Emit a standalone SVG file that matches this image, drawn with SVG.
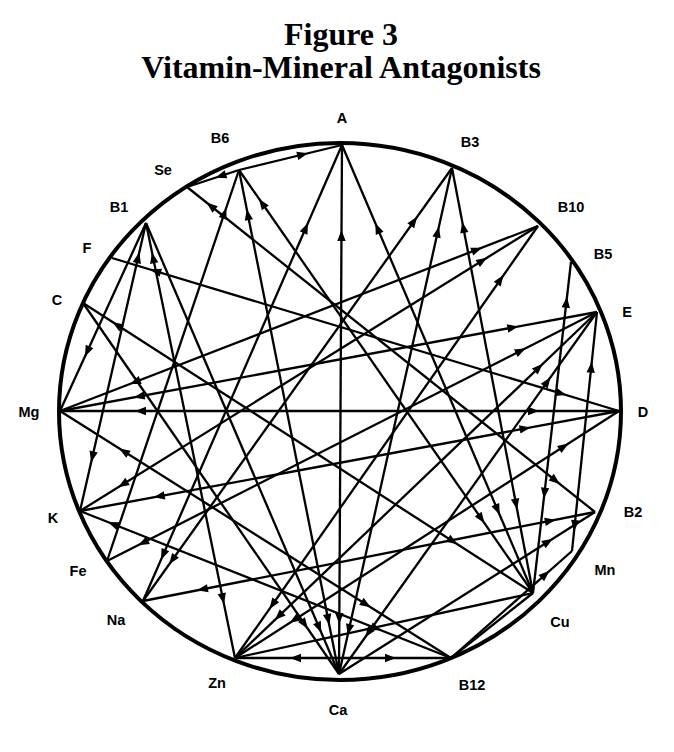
<svg xmlns="http://www.w3.org/2000/svg" width="674" height="752" viewBox="0 0 674 752">
<style>
.c line{stroke:#000;stroke-width:2.3;fill:none}
.ring{fill:none;stroke:#000;stroke-width:4}
.lbl{font-family:"Liberation Sans",Arial,sans-serif;font-weight:bold;font-size:14.5px;text-anchor:middle;fill:#000}
.title{font-family:"Liberation Serif","Times New Roman",serif;font-weight:bold;font-size:32px;text-anchor:middle;fill:#000}
marker{overflow:visible}
</style>
<defs>
<path id="ah" d="M0,0 L-11,-4.2 L-11,4.2 Z" fill="#000"/>
<marker id="a20" markerUnits="userSpaceOnUse" orient="auto-start-reverse" refX="20" refY="0" markerWidth="12" markerHeight="12"><use href="#ah"/></marker>
<marker id="a25" markerUnits="userSpaceOnUse" orient="auto-start-reverse" refX="25" refY="0" markerWidth="12" markerHeight="12"><use href="#ah"/></marker>
<marker id="a30" markerUnits="userSpaceOnUse" orient="auto-start-reverse" refX="30" refY="0" markerWidth="12" markerHeight="12"><use href="#ah"/></marker>
<marker id="a35" markerUnits="userSpaceOnUse" orient="auto-start-reverse" refX="35" refY="0" markerWidth="12" markerHeight="12"><use href="#ah"/></marker>
<marker id="a40" markerUnits="userSpaceOnUse" orient="auto-start-reverse" refX="40" refY="0" markerWidth="12" markerHeight="12"><use href="#ah"/></marker>
<marker id="a45" markerUnits="userSpaceOnUse" orient="auto-start-reverse" refX="45" refY="0" markerWidth="12" markerHeight="12"><use href="#ah"/></marker>
<marker id="a50" markerUnits="userSpaceOnUse" orient="auto-start-reverse" refX="50" refY="0" markerWidth="12" markerHeight="12"><use href="#ah"/></marker>
<marker id="a55" markerUnits="userSpaceOnUse" orient="auto-start-reverse" refX="55" refY="0" markerWidth="12" markerHeight="12"><use href="#ah"/></marker>
<marker id="a60" markerUnits="userSpaceOnUse" orient="auto-start-reverse" refX="60" refY="0" markerWidth="12" markerHeight="12"><use href="#ah"/></marker>
<marker id="a65" markerUnits="userSpaceOnUse" orient="auto-start-reverse" refX="65" refY="0" markerWidth="12" markerHeight="12"><use href="#ah"/></marker>
<marker id="a70" markerUnits="userSpaceOnUse" orient="auto-start-reverse" refX="70" refY="0" markerWidth="12" markerHeight="12"><use href="#ah"/></marker>
<marker id="a75" markerUnits="userSpaceOnUse" orient="auto-start-reverse" refX="75" refY="0" markerWidth="12" markerHeight="12"><use href="#ah"/></marker>
<marker id="a80" markerUnits="userSpaceOnUse" orient="auto-start-reverse" refX="80" refY="0" markerWidth="12" markerHeight="12"><use href="#ah"/></marker>
<marker id="a85" markerUnits="userSpaceOnUse" orient="auto-start-reverse" refX="85" refY="0" markerWidth="12" markerHeight="12"><use href="#ah"/></marker>
<marker id="a90" markerUnits="userSpaceOnUse" orient="auto-start-reverse" refX="90" refY="0" markerWidth="12" markerHeight="12"><use href="#ah"/></marker>
<marker id="a95" markerUnits="userSpaceOnUse" orient="auto-start-reverse" refX="95" refY="0" markerWidth="12" markerHeight="12"><use href="#ah"/></marker>
</defs>
<rect width="674" height="752" fill="#fff"/>
<text class="title" x="341" y="45">Figure 3</text>
<text class="title" x="341" y="78">Vitamin-Mineral Antagonists</text>
<ellipse class="ring" cx="340" cy="411.5" rx="281" ry="268.5"/>
<g class="c" id="connectors">
<line x1="342" y1="145" x2="339" y2="674" marker-start="url(#a85)" marker-end="url(#a50)"/>
<line x1="239" y1="170" x2="342" y2="145" marker-end="url(#a35)"/>
<line x1="342" y1="145" x2="143" y2="601" marker-start="url(#a85)" marker-end="url(#a45)"/>
<line x1="342" y1="145" x2="533" y2="593" marker-start="url(#a85)" marker-end="url(#a85)"/>
<line x1="452" y1="168" x2="143" y2="601" marker-start="url(#a60)" marker-end="url(#a45)"/>
<line x1="452" y1="168" x2="339" y2="674" marker-start="url(#a60)" marker-end="url(#a40)"/>
<line x1="452" y1="168" x2="533" y2="593" marker-start="url(#a55)" marker-end="url(#a85)"/>
<line x1="538" y1="226" x2="60" y2="411" marker-start="url(#a60)" marker-end="url(#a75)"/>
<line x1="538" y1="226" x2="80" y2="511" marker-start="url(#a60)" marker-end="url(#a45)"/>
<line x1="538" y1="226" x2="235" y2="658" marker-start="url(#a60)" marker-end="url(#a60)"/>
<line x1="571" y1="262" x2="533" y2="593" marker-start="url(#a35)" marker-end="url(#a95)"/>
<line x1="597" y1="312" x2="60" y2="411" marker-start="url(#a80)" marker-end="url(#a75)"/>
<line x1="597" y1="312" x2="107" y2="561" marker-start="url(#a80)" marker-end="url(#a35)"/>
<line x1="597" y1="312" x2="235" y2="658" marker-start="url(#a75)" marker-end="url(#a55)"/>
<line x1="597" y1="312" x2="339" y2="674" marker-start="url(#a80)" marker-end="url(#a45)"/>
<line x1="597" y1="312" x2="572" y2="551" marker-start="url(#a50)" marker-end="url(#a20)"/>
<line x1="619" y1="411" x2="112" y2="258" marker-start="url(#a55)" marker-end="url(#a40)"/>
<line x1="619" y1="411" x2="60" y2="411" marker-start="url(#a80)" marker-end="url(#a75)"/>
<line x1="146" y1="223" x2="60" y2="411" marker-end="url(#a60)"/>
<line x1="83" y1="303" x2="533" y2="593" marker-start="url(#a35)" marker-end="url(#a90)"/>
<line x1="60" y1="411" x2="451" y2="658" marker-start="url(#a70)" marker-end="url(#a95)"/>
<line x1="146" y1="223" x2="80" y2="511" marker-start="url(#a30)" marker-end="url(#a50)"/>
<line x1="619" y1="411" x2="80" y2="511" marker-start="url(#a90)" marker-end="url(#a75)"/>
<line x1="80" y1="511" x2="451" y2="658" marker-start="url(#a30)" marker-end="url(#a75)"/>
<line x1="107" y1="561" x2="239" y2="170" marker-end="url(#a40)"/>
<line x1="595" y1="512" x2="143" y2="601" marker-start="url(#a40)" marker-end="url(#a55)"/>
<line x1="239" y1="170" x2="187" y2="187" marker-end="url(#a30)"/>
<line x1="239" y1="170" x2="339" y2="674" marker-start="url(#a40)" marker-end="url(#a50)"/>
<line x1="239" y1="170" x2="533" y2="593" marker-start="url(#a35)" marker-end="url(#a85)"/>
<line x1="187" y1="187" x2="595" y2="512" marker-start="url(#a25)" marker-end="url(#a45)"/>
<line x1="595" y1="512" x2="339" y2="674" marker-start="url(#a50)"/>
<line x1="451" y1="658" x2="572" y2="551" marker-end="url(#a30)"/>
<line x1="451" y1="658" x2="533" y2="593"/>
<line x1="235" y1="658" x2="451" y2="658" marker-start="url(#a55)" marker-end="url(#a55)"/>
<line x1="619" y1="411" x2="235" y2="658" marker-start="url(#a60)" marker-end="url(#a65)"/>
<line x1="146" y1="223" x2="235" y2="658" marker-start="url(#a30)" marker-end="url(#a55)"/>
<line x1="146" y1="223" x2="339" y2="674" marker-end="url(#a45)"/>
<line x1="83" y1="303" x2="339" y2="674" marker-end="url(#a55)"/>
<line x1="235" y1="658" x2="533" y2="593"/>
</g>
<g id="nodes">
<g id="n-A"><text class="lbl" x="342" y="123">A</text></g>
<g id="n-B3"><text class="lbl" x="470" y="147">B3</text></g>
<g id="n-B10"><text class="lbl" x="571" y="212">B10</text></g>
<g id="n-B5"><text class="lbl" x="603" y="259">B5</text></g>
<g id="n-E"><text class="lbl" x="627" y="317">E</text></g>
<g id="n-D"><text class="lbl" x="643" y="417">D</text></g>
<g id="n-B2"><text class="lbl" x="633" y="517">B2</text></g>
<g id="n-Mn"><text class="lbl" x="605" y="575">Mn</text></g>
<g id="n-Cu"><text class="lbl" x="560" y="627">Cu</text></g>
<g id="n-B12"><text class="lbl" x="472" y="690">B12</text></g>
<g id="n-Ca"><text class="lbl" x="338" y="715">Ca</text></g>
<g id="n-Zn"><text class="lbl" x="217" y="688">Zn</text></g>
<g id="n-Na"><text class="lbl" x="116" y="625">Na</text></g>
<g id="n-Fe"><text class="lbl" x="78" y="576">Fe</text></g>
<g id="n-K"><text class="lbl" x="53" y="523">K</text></g>
<g id="n-Mg"><text class="lbl" x="29" y="417">Mg</text></g>
<g id="n-C"><text class="lbl" x="57" y="305">C</text></g>
<g id="n-F"><text class="lbl" x="87" y="253">F</text></g>
<g id="n-B1"><text class="lbl" x="119" y="212">B1</text></g>
<g id="n-Se"><text class="lbl" x="163" y="175">Se</text></g>
<g id="n-B6"><text class="lbl" x="220" y="143">B6</text></g>
</g>
</svg>
